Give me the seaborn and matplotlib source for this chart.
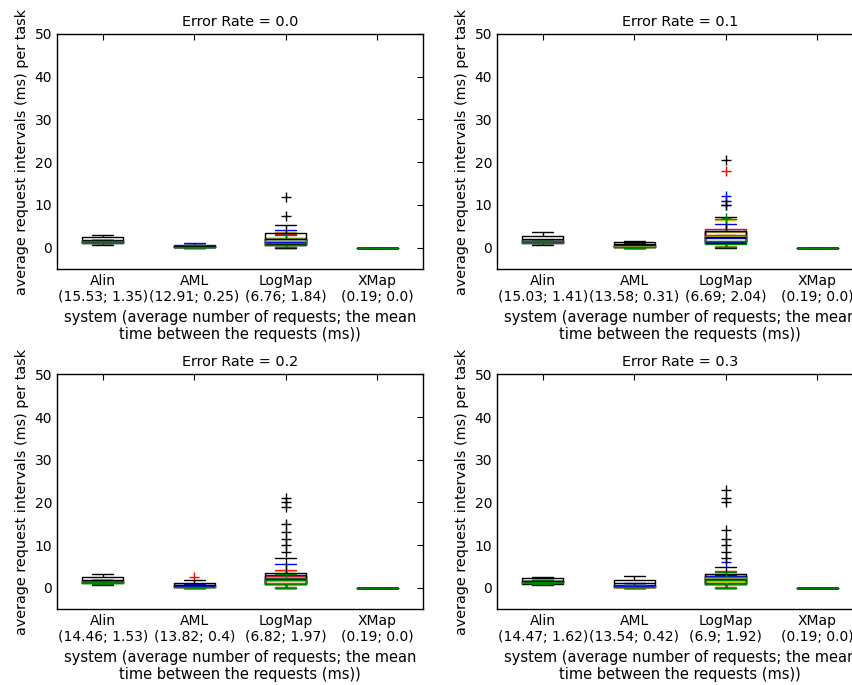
import pandas as pd
import seaborn as sns
import numpy as np
import matplotlib.pyplot as plt

# systems and the tasks drawn over each other at the same x position
systems = ['Alin', 'AML', 'LogMap', 'XMap']
tasks = ['t1', 't2', 't3', 't4', 't5']
task_colors = ['r', 'y', 'b', 'k', 'g']

rates = ['0.0', '0.1', '0.2', '0.3']
tick_labels = [
    ['Alin\n(15.53; 1.35)', 'AML\n(12.91; 0.25)', 'LogMap\n(6.76; 1.84)', 'XMap\n(0.19; 0.0)'],
    ['Alin\n(15.03; 1.41)', 'AML\n(13.58; 0.31)', 'LogMap\n(6.69; 2.04)', 'XMap\n(0.19; 0.0)'],
    ['Alin\n(14.46; 1.53)', 'AML\n(13.82; 0.4)', 'LogMap\n(6.82; 1.97)', 'XMap\n(0.19; 0.0)'],
    ['Alin\n(14.47; 1.62)', 'AML\n(13.54; 0.42)', 'LogMap\n(6.9; 1.92)', 'XMap\n(0.19; 0.0)'],
]

# average request intervals (ms) per task, one list per task
alin_00 = [[1.2, 1.3, 1.4, 1.5, 1.6, 1.7, 1.8],
           [1.2, 1.3, 1.4, 1.5, 1.6, 1.7, 1.8],
           [1.1, 1.2, 1.4, 1.5, 1.6, 1.7, 1.8],
           [0.6, 0.8, 1.2, 1.6, 2.0, 2.4, 2.5, 3.0],
           [1.0, 1.1, 1.3, 1.5, 1.6, 1.7, 1.8]]
aml_00 = [[0.0, 0.1, 0.2, 0.3, 0.4, 0.5, 0.6],
          [0.0, 0.1, 0.2, 0.25, 0.3, 0.4, 0.5],
          [0.0, 0.05, 0.1, 0.2, 0.3, 0.5, 0.7, 1.0],
          [0.1, 0.2, 0.3, 0.4, 0.5, 0.6],
          [0.0, 0.1, 0.2, 0.3, 0.4, 0.5]]
logmap_00 = [[0.1, 0.4, 0.8, 1.2, 1.6, 2.1, 2.6, 3.2],
             [0.2, 0.5, 0.9, 1.3, 1.8, 2.2, 2.5, 3.6],
             [0.0, 0.3, 0.7, 1.1, 1.5, 2.0, 2.4, 4.2],
             [0.0, 0.2, 0.4, 0.6, 0.9, 1.2, 1.4, 1.7, 2.0, 2.3, 2.6, 2.8, 3.4, 4.4, 5.4, 7.5, 11.8],
             [0.1, 0.3, 0.6, 1.0, 1.4, 1.9, 2.3, 3.0]]
xmap_00 = [[0.0, 0.0, 0.0, 0.0, 0.0]] * 5

alin_01 = [[1.2, 1.3, 1.4, 1.5, 1.6, 1.7, 1.8],
           [1.2, 1.3, 1.4, 1.5, 1.6, 1.7, 1.8],
           [1.1, 1.2, 1.4, 1.5, 1.6, 1.7, 1.8],
           [0.5, 0.7, 1.2, 1.7, 2.2, 2.7, 2.8, 3.7],
           [1.0, 1.1, 1.3, 1.5, 1.6, 1.7, 1.8]]
aml_01 = [[0.0, 0.1, 0.2, 0.4, 0.5, 0.6, 0.7],
          [0.0, 0.1, 0.2, 0.3, 0.4, 0.5, 0.6],
          [0.0, 0.1, 0.3, 0.5, 0.6, 0.8, 1.0],
          [0.0, 0.2, 0.4, 0.6, 0.9, 1.2, 1.3, 1.6],
          [0.0, 0.1, 0.2, 0.3, 0.4, 0.5]]
logmap_01 = [[0.2, 0.5, 0.9, 1.3, 1.8, 2.3, 2.9, 3.5, 4.0, 4.3, 4.6, 6.8, 18.0],
             [0.3, 0.7, 1.1, 1.5, 1.9, 2.2, 2.5, 2.8, 3.1, 3.4, 3.8, 5.0, 6.5, 11.0],
             [0.1, 0.4, 0.7, 1.0, 1.3, 1.6, 1.8, 2.1, 2.4, 2.7, 3.0, 3.3, 5.5, 10.0, 11.0, 12.0],
             [0.0, 0.3, 0.6, 0.9, 1.2, 1.6, 2.0, 2.4, 2.8, 3.2, 3.6, 3.9, 4.2, 7.2, 10.0, 20.5],
             [0.1, 0.3, 0.6, 0.9, 1.1, 1.4, 1.7, 2.0, 2.3, 2.6, 2.9, 6.9]]
xmap_01 = [[0.0, 0.0, 0.0, 0.0, 0.0]] * 5

alin_02 = [[1.2, 1.3, 1.4, 1.5, 1.6, 1.7, 1.8],
           [1.2, 1.3, 1.4, 1.5, 1.6, 1.7, 1.8],
           [1.1, 1.2, 1.4, 1.5, 1.6, 1.7, 1.9],
           [0.7, 0.9, 1.2, 1.6, 2.1, 2.5, 2.6, 3.2],
           [1.0, 1.1, 1.3, 1.5, 1.6, 1.7, 1.9]]
aml_02 = [[0.0, 0.1, 0.2, 0.3, 0.4, 0.5, 0.6, 2.5],
          [0.0, 0.1, 0.2, 0.3, 0.4, 0.5, 0.6],
          [0.0, 0.1, 0.3, 0.5, 0.6, 0.8, 1.0],
          [0.0, 0.2, 0.4, 0.6, 0.9, 1.2, 1.3, 1.8],
          [0.0, 0.1, 0.2, 0.3, 0.4, 0.5]]
logmap_02 = [[0.2, 0.5, 0.9, 1.3, 1.7, 2.0, 2.3, 2.6, 2.9, 3.1, 4.2],
             [0.3, 0.7, 1.0, 1.4, 1.8, 2.1, 2.4, 2.7, 3.0, 4.0],
             [0.0, 0.4, 0.8, 1.2, 1.6, 2.0, 2.4, 2.8, 3.2, 4.4, 5.5],
             [0.0, 0.1, 0.2, 0.3, 0.45, 0.5, 0.6, 0.7, 0.85, 0.9, 1.0, 1.1, 1.2, 1.35, 1.4,
              1.5, 1.6, 1.7, 1.8, 1.9, 2.0, 2.1, 2.2, 2.35, 2.4, 2.5, 2.6, 2.8, 3.0, 3.2,
              4.3, 7.0, 8.5, 10.0, 11.5, 13.0, 15.0, 19.0, 20.0, 21.0],
             [0.1, 0.5, 0.9, 1.2, 1.6, 1.9, 2.2, 2.5, 2.8, 3.3]]
xmap_02 = [[0.0, 0.0, 0.0, 0.0, 0.0]] * 5

alin_03 = [[1.2, 1.3, 1.4, 1.5, 1.6, 1.7, 1.8],
           [1.2, 1.3, 1.4, 1.5, 1.6, 1.7, 1.8],
           [1.1, 1.2, 1.4, 1.5, 1.6, 1.7, 1.9],
           [0.6, 0.8, 1.2, 1.6, 2.1, 2.5, 2.6],
           [1.0, 1.1, 1.3, 1.5, 1.6, 1.7, 1.9]]
aml_03 = [[0.0, 0.1, 0.2, 0.3, 0.4, 0.5, 0.6],
          [0.0, 0.1, 0.2, 0.3, 0.4, 0.5, 0.7],
          [0.0, 0.1, 0.3, 0.5, 0.7, 0.9, 1.1],
          [0.0, 0.3, 0.6, 0.9, 1.3, 1.8, 2.0, 2.8],
          [0.0, 0.1, 0.2, 0.3, 0.4, 0.5, 0.6]]
logmap_03 = [[0.2, 0.5, 0.9, 1.3, 1.7, 2.1, 2.4, 2.7, 3.0, 3.2, 4.0],
             [0.3, 0.8, 1.3, 1.8, 2.2, 2.6, 3.0, 3.3, 3.5, 3.7],
             [0.0, 0.4, 0.8, 1.2, 1.6, 2.0, 2.3, 2.6, 2.9, 3.1, 6.0],
             [0.0, 0.1, 0.2, 0.35, 0.4, 0.5, 0.6, 0.75, 0.8, 0.9, 1.0, 1.15, 1.2, 1.3, 1.45,
              1.5, 1.6, 1.7, 1.8, 1.95, 2.0, 2.1, 2.2, 2.4, 2.5, 2.7, 2.9, 3.1, 3.3,
              5.0, 7.0, 8.5, 10.0, 11.5, 13.5, 20.0, 21.0, 23.0],
             [0.1, 0.5, 0.9, 1.3, 1.8, 2.1, 2.4, 2.6, 2.8, 3.7]]
xmap_03 = [[0.0, 0.0, 0.0, 0.0, 0.0]] * 5

panels = [
    [alin_00, aml_00, logmap_00, xmap_00],
    [alin_01, aml_01, logmap_01, xmap_01],
    [alin_02, aml_02, logmap_02, xmap_02],
    [alin_03, aml_03, logmap_03, xmap_03],
]


def make_frame(panel):
    rows = []
    for sys_name, task_lists in zip(systems, panel):
        for task_name, vals in zip(tasks, task_lists):
            for v in vals:
                rows.append((sys_name, task_name, v))
    return pd.DataFrame(rows, columns=['system', 'task', 'interval'])


sns.set_style('white')
plt.rcParams.update({
    'font.family': ['DejaVu Sans'],
    'font.size': 10,
    'xtick.direction': 'in',
    'ytick.direction': 'in',
    'xtick.top': True,
    'ytick.right': True,
    'xtick.major.size': 4,
    'ytick.major.size': 4,
    'axes.edgecolor': 'black',
    'axes.linewidth': 1.0,
    'text.color': 'black',
    'axes.labelcolor': 'black',
    'xtick.color': 'black',
    'ytick.color': 'black',
})

fig = plt.figure(figsize=(8.53, 6.85), dpi=100)
rects = [
    [0.0668, 0.6073, 0.4291, 0.3431],
    [0.5826, 0.6073, 0.4291, 0.3431],
    [0.0668, 0.1105, 0.4291, 0.3431],
    [0.5826, 0.1105, 0.4291, 0.3431],
]

for i, panel in enumerate(panels):
    ax = fig.add_axes(rects[i])
    df = make_frame(panel)
    sns.boxplot(data=df, x='system', y='interval', hue='task',
                order=systems, hue_order=tasks, palette=task_colors,
                dodge=False, fill=False, width=0.45, linewidth=1,
                flierprops=dict(marker='+', markersize=7),
                legend=False, ax=ax)
    ax.set_ylim(-5, 50)
    ax.set_yticks(range(0, 51, 10))
    ax.set_xlim(-0.5, 3.5)
    ax.set_xticks(range(len(systems)))
    ax.set_xticklabels(tick_labels[i])
    ax.set_title('Error Rate = ' + rates[i], fontsize=10.4)
    ax.set_xlabel('system (average number of requests; the mean\ntime between the requests (ms))',
                  fontsize=10.5)
    ax.set_ylabel('average request intervals (ms) per task', fontsize=10.4)
    ax.tick_params(axis='both', labelsize=10)

fig.savefig('out.png', dpi=100)
